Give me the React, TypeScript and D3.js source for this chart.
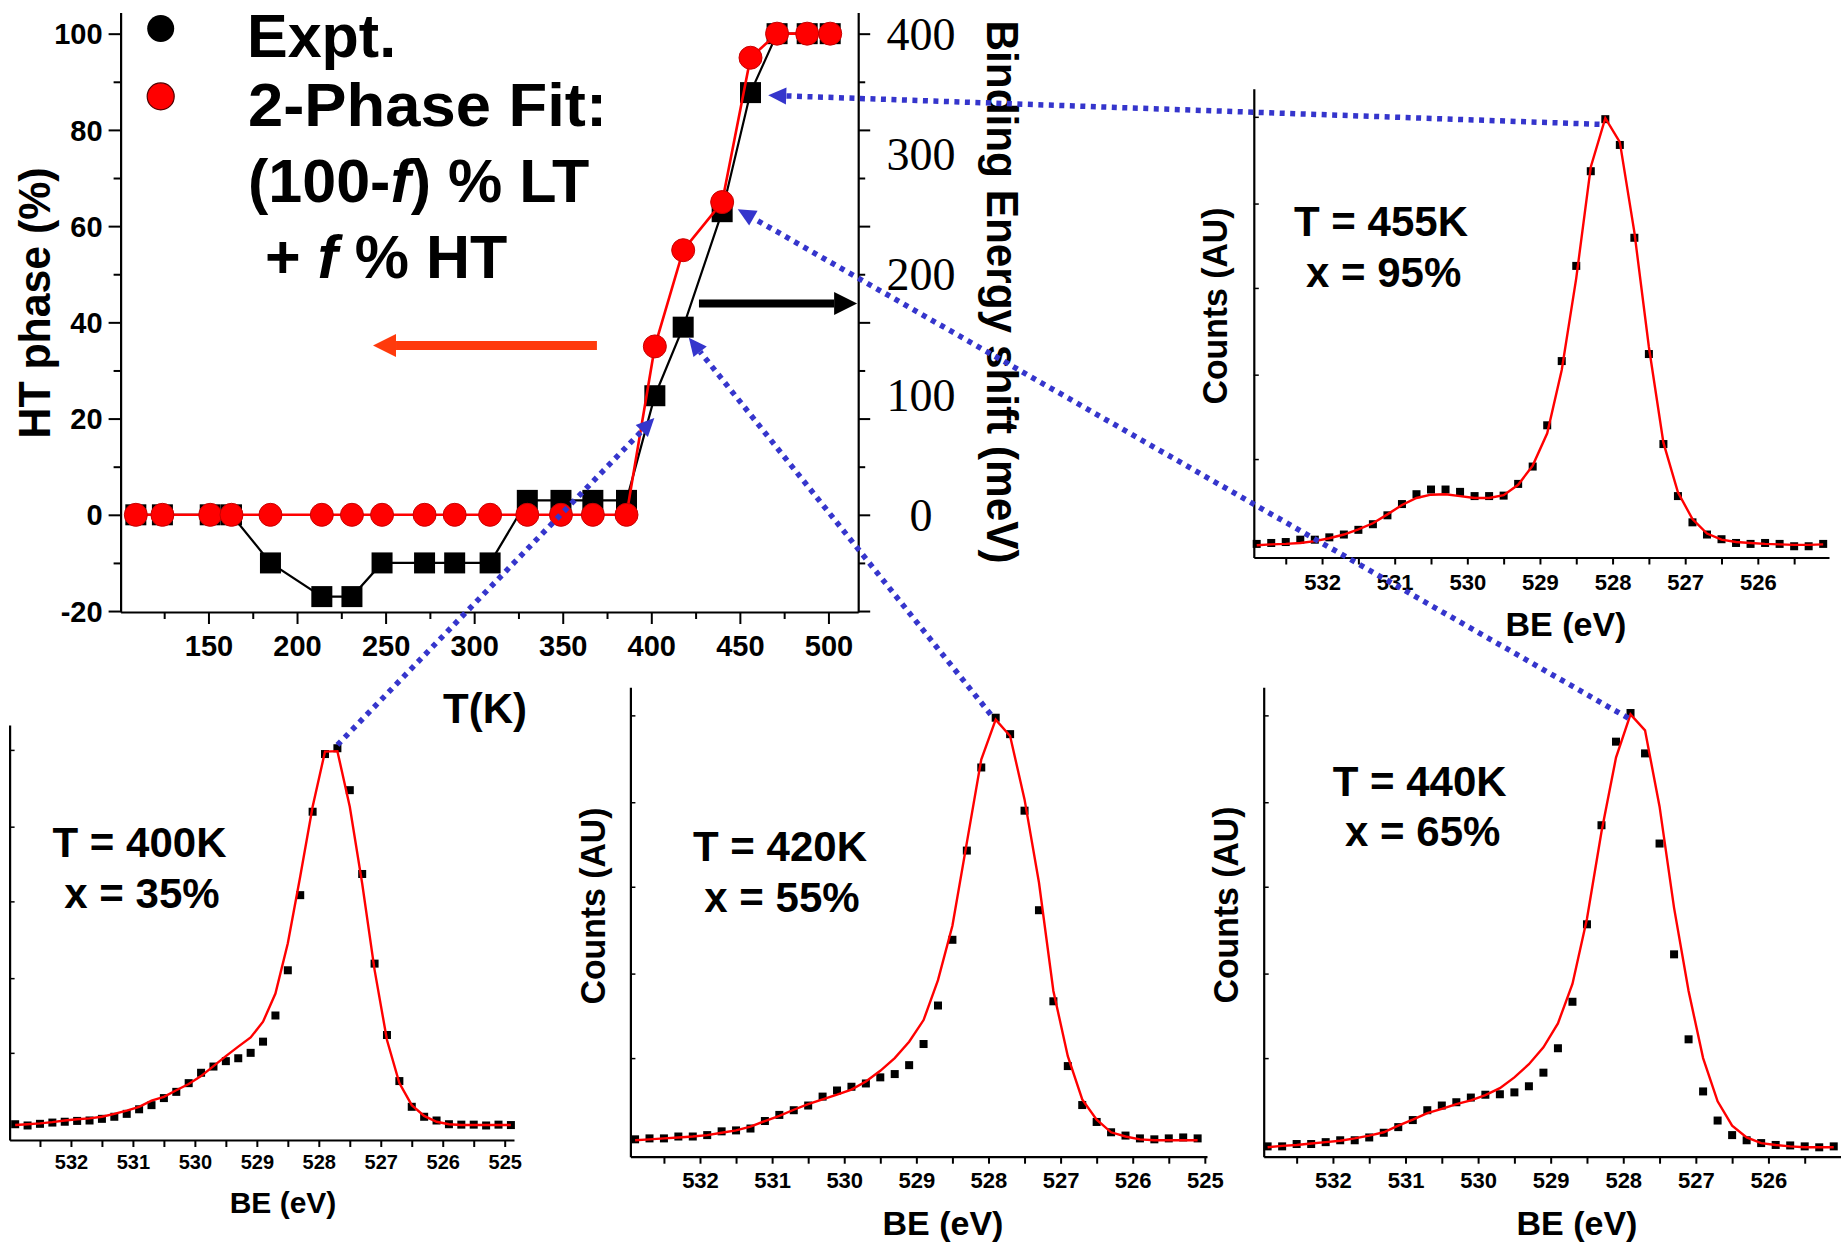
import { useEffect, useRef } from "react";
import * as d3 from "d3";

const W = 1841;
const H = 1247;
const SANS = "'Liberation Sans', Arial, Helvetica, sans-serif";
const SERIF = "'Liberation Serif', 'Times New Roman', serif";
const BLUE = "#3535cc";

// ---- main panel: temperature series ----
const temperatures = [109, 124, 151, 163, 185, 214, 231, 248, 272, 289, 309, 330, 349, 367, 386, 402, 418, 440, 456, 471, 488, 501];
// experimental binding energy shift (meV, right axis)
const exptShiftMeV = [0, 0, 0, 0, -40, -68, -68, -40, -40, -40, -40, 12, 12, 12, 12, 99, 156, 252, 351, 400, 400, 400];
// two-phase fit, HT fraction (%, left axis)
const fitPhasePct = [0, 0, 0, 0, 0, 0, 0, 0, 0, 0, 0, 0, 0, 0, 0, 35, 55, 65, 95, 100, 100, 100];

const tempTicks = [150, 200, 250, 300, 350, 400, 450, 500];
const tempMinorTicks = [125, 175, 225, 275, 325, 375, 425, 475];
const phaseTicks = [-20, 0, 20, 40, 60, 80, 100];
const phaseMinorTicks = [-10, 10, 30, 50, 70, 90];
const shiftLabels = [0, 100, 200, 300, 400];

// ---- XPS O 1s spectra ----
const bindingEnergy = [
  532.9, 532.7, 532.5, 532.3, 532.1, 531.9, 531.7, 531.5, 531.3, 531.1,
  530.9, 530.7, 530.5, 530.3, 530.1, 529.9, 529.7, 529.5, 529.3, 529.1,
  528.9, 528.7, 528.5, 528.3, 528.1, 527.9, 527.7, 527.5, 527.3, 527.1,
  526.9, 526.7, 526.5, 526.3, 526.1, 525.9, 525.7, 525.5, 525.3, 525.1, 524.9,
];
const beLabels = [532, 531, 530, 529, 528, 527, 526, 525];
const beMinorTicks = [532.5, 531.5, 530.5, 529.5, 528.5, 527.5, 526.5, 525.5];
const countTicks = [21, 39, 57.5, 75.5, 94];

const counts400 = [3.8, 3.5, 3.9, 4.2, 4.4, 4.6, 4.7, 5.1, 5.6, 6.3, 7.4, 8.4, 10.1, 11.6, 13.7, 16.2, 17.7, 19.0, 19.7, 21.0, 23.7, 30.0, 40.9, 59.0, 79.1, 93.0, 94.4, 84.3, 64.1, 42.5, 25.3, 14.2, 8.0, 5.6, 4.7, 3.8, 3.7, 3.7, 3.5, 3.7, 3.6];
const fit400 = [3.6, 3.8, 4.0, 4.3, 4.7, 5.0, 5.2, 5.6, 6.3, 7.1, 8.0, 9.5, 10.4, 12.0, 13.5, 15.4, 17.8, 20.2, 22.5, 24.7, 28.5, 35.3, 47.4, 63.5, 80.3, 93.6, 93.7, 80.3, 61.8, 41.0, 24.1, 13.7, 8.4, 5.8, 4.4, 3.8, 3.6, 3.6, 3.6, 3.6, 3.6];
const counts420 = [3.7, 3.9, 3.9, 4.3, 4.3, 4.6, 5.4, 5.6, 6.0, 7.6, 8.9, 9.9, 10.9, 12.8, 14.1, 14.9, 15.6, 16.9, 17.6, 19.5, 24.0, 32.2, 46.2, 65.2, 82.9, 93.5, 90.0, 73.7, 52.5, 33.1, 19.3, 11.0, 7.4, 5.2, 4.5, 3.9, 3.7, 3.9, 4.1, 3.9];
const fit420 = [3.5, 3.7, 3.9, 4.1, 4.3, 4.6, 5.1, 5.6, 6.4, 7.6, 8.7, 10.0, 11.2, 12.2, 13.2, 14.3, 16.0, 18.3, 21.0, 24.5, 29.1, 37.6, 49.2, 66.9, 84.6, 93.1, 89.6, 76.1, 58.4, 35.3, 21.4, 12.2, 7.9, 5.2, 4.3, 3.7, 3.5, 3.5, 3.5, 3.5];
const counts440 = [2.2, 2.2, 2.7, 2.7, 3.1, 3.5, 3.5, 4.1, 5.1, 6.3, 7.8, 9.9, 10.9, 11.6, 12.6, 13.2, 13.3, 13.7, 15.0, 17.9, 23.1, 33.0, 49.5, 70.6, 88.4, 94.5, 85.9, 66.7, 43.1, 25.0, 13.9, 7.7, 4.6, 3.5, 2.9, 2.5, 2.4, 2.2, 2.0, 2.2];
const fit440 = [2.0, 2.3, 2.5, 2.8, 3.1, 3.4, 3.9, 4.5, 5.2, 6.6, 7.9, 9.3, 10.2, 11.2, 12.0, 13.1, 14.6, 16.9, 19.7, 23.3, 28.4, 36.8, 50.7, 69.2, 85.0, 94.2, 90.8, 74.6, 53.0, 35.3, 21.0, 11.8, 6.6, 4.1, 2.9, 2.5, 2.2, 2.0, 2.0, 2.0];
const counts455 = [2.9, 3.1, 3.3, 3.8, 3.8, 4.3, 4.9, 5.9, 7.1, 9.0, 11.4, 13.5, 14.5, 14.5, 14.0, 13.1, 13.1, 13.2, 15.7, 19.4, 28.2, 41.9, 62.2, 82.4, 93.5, 88.0, 68.2, 43.4, 24.2, 13.1, 7.5, 4.9, 3.9, 3.1, 2.9, 3.1, 2.9, 2.4, 2.4, 2.9];
const fit455 = [2.6, 2.8, 2.9, 3.1, 3.5, 4.1, 4.9, 6.0, 7.3, 9.2, 11.2, 12.7, 13.4, 13.5, 13.1, 12.7, 12.7, 13.3, 15.5, 19.6, 26.5, 40.0, 59.6, 83.3, 93.7, 88.6, 69.4, 44.9, 24.5, 13.9, 8.2, 5.1, 3.8, 3.3, 3.1, 2.9, 2.8, 2.7, 2.7, 2.8];

// pointer from each spectrum peak [BE, counts] to the main panel [T, %]
const pointerFrom = [[527.7, 95.2], [527.97, 94.2], [527.93, 93.4], [528.18, 92.4]];
const pointerTo = [[401.7, 20.1], [421.2, 36.8], [448.8, 63.5], [466.0, 87.2]];

// main panel scales
const xT = d3.scaleLinear().domain([100.4, 516.8]).range([120.6, 858.2]);
const yPct = d3.scaleLinear().domain([-20.2, 104.4]).range([612, 12.5]);
const yMeV = d3.scaleLinear().domain([-80.8, 417.6]).range([612, 12.5]);

const spectra = [
  {
    temp: "T = 400K", frac: "x = 35%", counts: counts400, fit: fit400,
    left: 9.6, right: 514, top: 725, bottom: 1140, be: [532.99, 524.85],
    tickFont: 20, tickBase: 29, tempAt: [139.5, 856.7], fracAt: [142, 908.3],
    beTitle: [283, 1213, 30], countsAt: null,
  },
  {
    temp: "T = 420K", frac: "x = 55%", counts: counts420, fit: fit420,
    left: 630.4, right: 1207, top: 687.2, bottom: 1156.7, be: [532.965, 524.97],
    tickFont: 22, tickBase: 31.5, tempAt: [780, 860.8], fracAt: [782, 911.5],
    beTitle: [943, 1235, 34], countsAt: [605, 906],
  },
  {
    temp: "T = 440K", frac: "x = 65%", counts: counts440, fit: fit440,
    left: 1263.7, right: 1841, top: 687.2, bottom: 1156.7, be: [532.954, 525.0],
    tickFont: 22, tickBase: 31.5, tempAt: [1419.7, 795.7], fracAt: [1422.7, 846.4],
    beTitle: [1577, 1235, 34], countsAt: [1238, 905],
  },
  {
    temp: "T = 455K", frac: "x = 95%", counts: counts455, fit: fit455,
    left: 1253.8, right: 1829, top: 88.7, bottom: 557.5, be: [532.94, 525.02],
    tickFont: 22, tickBase: 32.5, tempAt: [1381, 236], fracAt: [1383.6, 286.6],
    beTitle: [1566, 636, 34], countsAt: [1227, 306],
  },
];

const plain = (d: any) => String(d);

function styleTicks(sel: any, size: number) {
  sel.selectAll("text")
    .attr("font-family", SANS)
    .attr("font-weight", "bold")
    .attr("font-size", size)
    .attr("fill", "#000");
  sel.selectAll(".tick line").attr("stroke", "#000").attr("stroke-width", 2);
  sel.select(".domain").attr("stroke", "#000").attr("stroke-width", 2.2);
}

function drawMain(svg: any) {
  const g = svg.append("g");

  // bottom axis
  const bx = g.append("g").attr("transform", "translate(0,612)")
    .call(d3.axisBottom(xT).tickValues(tempTicks).tickSize(12).tickSizeOuter(0).tickFormat(plain));
  styleTicks(bx, 29);
  bx.selectAll("text").attr("y", 43.5).attr("dy", null);
  const bxm = g.append("g").attr("transform", "translate(0,612)")
    .call(d3.axisBottom(xT).tickValues(tempMinorTicks).tickSize(7).tickSizeOuter(0).tickFormat(() => ""));
  styleTicks(bxm, 29);
  bxm.select(".domain").remove();

  // left axis
  const ly = g.append("g").attr("transform", `translate(${xT.range()[0]},0)`)
    .call(d3.axisLeft(yPct).tickValues(phaseTicks).tickSize(12).tickSizeOuter(0).tickFormat(plain));
  styleTicks(ly, 29);
  ly.selectAll("text").attr("x", -18).attr("dy", "0.35em");
  const lym = g.append("g").attr("transform", `translate(${xT.range()[0]},0)`)
    .call(d3.axisLeft(yPct).tickValues(phaseMinorTicks).tickSize(7).tickSizeOuter(0).tickFormat(() => ""));
  styleTicks(lym, 29);
  lym.select(".domain").remove();

  // right axis (ticks follow the left scale, labels in meV)
  const ry = g.append("g").attr("transform", `translate(${xT.range()[1]},0)`)
    .call(d3.axisRight(yPct).tickValues(phaseTicks).tickSize(12).tickSizeOuter(0).tickFormat(() => ""));
  styleTicks(ry, 29);
  const rym = g.append("g").attr("transform", `translate(${xT.range()[1]},0)`)
    .call(d3.axisRight(yPct).tickValues(phaseMinorTicks).tickSize(7).tickSizeOuter(0).tickFormat(() => ""));
  styleTicks(rym, 29);
  rym.select(".domain").remove();

  g.selectAll(".shift-label").data(shiftLabels).enter().append("text")
    .attr("x", 921).attr("y", (d: number) => yMeV(d)).attr("dy", "0.35em")
    .attr("text-anchor", "middle").attr("font-family", SERIF).attr("font-size", 46)
    .text((d: number) => d);

  // axis titles
  g.append("text").attr("transform", "translate(50,303) rotate(-90)")
    .attr("text-anchor", "middle").attr("font-family", SANS).attr("font-weight", "bold")
    .attr("font-size", 45).attr("textLength", 271).attr("lengthAdjust", "spacingAndGlyphs")
    .text("HT phase (%)");
  g.append("text").attr("x", 485).attr("y", 723)
    .attr("text-anchor", "middle").attr("font-family", SANS).attr("font-weight", "bold")
    .attr("font-size", 42).text("T(K)");
  g.append("text").attr("transform", "translate(987,292) rotate(90)")
    .attr("text-anchor", "middle").attr("font-family", SANS).attr("font-weight", "bold")
    .attr("font-size", 44).attr("textLength", 543).attr("lengthAdjust", "spacingAndGlyphs")
    .text("Binding Energy shift (meV)");

  // experimental shift: black squares with a thin line
  const expt = temperatures.map((t, i) => [xT(t), yMeV(exptShiftMeV[i])] as [number, number]);
  g.append("path").attr("d", d3.line()(expt)).attr("fill", "none")
    .attr("stroke", "#000").attr("stroke-width", 2.2);
  g.selectAll(".sq").data(expt).enter().append("rect")
    .attr("x", (d: number[]) => d[0] - 10.5).attr("y", (d: number[]) => d[1] - 10.5)
    .attr("width", 21).attr("height", 21).attr("fill", "#000");

  // two-phase fit: red circles
  const fit = temperatures.map((t, i) => [xT(t), yPct(fitPhasePct[i])] as [number, number]);
  g.append("path").attr("d", d3.line()(fit)).attr("fill", "none")
    .attr("stroke", "#ff0000").attr("stroke-width", 2.6);
  g.selectAll(".dot").data(fit).enter().append("circle")
    .attr("cx", (d: number[]) => d[0]).attr("cy", (d: number[]) => d[1]).attr("r", 11.5)
    .attr("fill", "#ff0000").attr("stroke", "#c80000").attr("stroke-width", 1);

  // legend
  g.append("circle").attr("cx", 160.7).attr("cy", 28.5).attr("r", 13.5).attr("fill", "#000");
  g.append("circle").attr("cx", 160.7).attr("cy", 96.4).attr("r", 13.5)
    .attr("fill", "#ff0000").attr("stroke", "#500000").attr("stroke-width", 1.2);
  const leg = g.append("g").attr("font-family", SANS).attr("font-weight", "bold").attr("font-size", 61);
  leg.append("text").attr("x", 247).attr("y", 57.4).text("Expt.");
  leg.append("text").attr("x", 248).attr("y", 126.3).attr("textLength", 359)
    .attr("lengthAdjust", "spacingAndGlyphs").text("2-Phase Fit:");
  const l3 = leg.append("text").attr("x", 248).attr("y", 202);
  l3.append("tspan").text("(100-");
  l3.append("tspan").attr("font-style", "italic").text("f");
  l3.append("tspan").text(") % LT");
  const l4 = leg.append("text").attr("x", 265).attr("y", 277.8);
  l4.append("tspan").text("+ ");
  l4.append("tspan").attr("font-style", "italic").text("f");
  l4.append("tspan").text(" % HT");

  // axis-assignment arrows, in data units
  const arrows = [
    { from: [369.3, 35.2], to: [242.9, 35.2], color: "#ff3a0c", w: 9 },
    { from: [426.9, 43.9], to: [516.2, 43.9], color: "#000", w: 8 },
  ];
  arrows.forEach((a) => {
    const x1 = xT(a.from[0]), x2 = xT(a.to[0]), y = yPct(a.from[1]);
    const dir = Math.sign(x2 - x1);
    const base = x2 - dir * 23;
    g.append("line").attr("x1", x1).attr("x2", base).attr("y1", y).attr("y2", y)
      .attr("stroke", a.color).attr("stroke-width", a.w);
    g.append("polygon")
      .attr("points", `${x2},${y} ${base},${y - 11.5} ${base},${y + 11.5}`)
      .attr("fill", a.color);
  });
}

function drawSpectrum(svg: any, p: any) {
  const x = d3.scaleLinear().domain(p.be).range([p.left, p.right]);
  const y = d3.scaleLinear().domain([0, 100]).range([p.bottom, p.top]);
  const g = svg.append("g");
  const inDomain = (v: number) => v < p.be[0] && v > p.be[1] + 0.01;

  const bx = g.append("g").attr("transform", `translate(0,${p.bottom})`)
    .call(d3.axisBottom(x).tickValues(beLabels.filter(inDomain)).tickSize(7).tickSizeOuter(0).tickFormat(plain));
  styleTicks(bx, p.tickFont);
  bx.selectAll("text").attr("y", p.tickBase).attr("dy", null);
  const bxm = g.append("g").attr("transform", `translate(0,${p.bottom})`)
    .call(d3.axisBottom(x).tickValues(beMinorTicks.filter(inDomain)).tickSize(7).tickSizeOuter(0).tickFormat(() => ""));
  styleTicks(bxm, p.tickFont);
  bxm.select(".domain").remove();

  const ly = g.append("g").attr("transform", `translate(${p.left},0)`)
    .call(d3.axisLeft(y).tickValues(countTicks).tickSize(-5).tickSizeOuter(0).tickFormat(() => ""));
  styleTicks(ly, p.tickFont);
  ly.selectAll(".tick line").attr("stroke-width", 1.5);

  const pts = p.counts.map((c: number, i: number) => [x(bindingEnergy[i]), y(c)] as [number, number]);
  g.selectAll(".pt").data(pts).enter().append("rect")
    .attr("x", (d: number[]) => d[0] - 4).attr("y", (d: number[]) => d[1] - 4)
    .attr("width", 8).attr("height", 8).attr("fill", "#000");
  const fitPts = p.fit.map((c: number, i: number) => [x(bindingEnergy[i]), y(c)] as [number, number]);
  g.append("path").attr("d", d3.line()(fitPts)).attr("fill", "none")
    .attr("stroke", "#ff0000").attr("stroke-width", 2.4);

  const txt = g.append("g").attr("font-family", SANS).attr("font-weight", "bold").attr("text-anchor", "middle");
  txt.append("text").attr("x", p.tempAt[0]).attr("y", p.tempAt[1]).attr("font-size", 42).text(p.temp);
  txt.append("text").attr("x", p.fracAt[0]).attr("y", p.fracAt[1]).attr("font-size", 42).text(p.frac);
  txt.append("text").attr("x", p.beTitle[0]).attr("y", p.beTitle[1]).attr("font-size", p.beTitle[2]).text("BE (eV)");
  if (p.countsAt) {
    txt.append("text").attr("transform", `translate(${p.countsAt[0]},${p.countsAt[1]}) rotate(-90)`)
      .attr("font-size", 35).attr("textLength", 197).attr("lengthAdjust", "spacingAndGlyphs")
      .text("Counts (AU)");
  }
  return { x, y };
}

export default function App() {
  const svgRef = useRef<SVGSVGElement>(null);

  useEffect(() => {
    if (!svgRef.current) return;
    const svg = d3.select(svgRef.current);
    svg.selectAll("*").remove();

    drawMain(svg);
    const scales = spectra.map((p) => drawSpectrum(svg, p));

    // blue dotted pointers from each spectrum peak to the main panel
    const ptr = svg.append("g");
    scales.forEach((s, i) => {
      const x0 = s.x(pointerFrom[i][0]), y0 = s.y(pointerFrom[i][1]);
      const x1 = xT(pointerTo[i][0]), y1 = yPct(pointerTo[i][1]);
      const len = Math.hypot(x1 - x0, y1 - y0);
      const ux = (x1 - x0) / len, uy = (y1 - y0) / len;
      const bx = x1 - ux * 18, by = y1 - uy * 18;
      ptr.append("line").attr("x1", x0).attr("y1", y0).attr("x2", bx).attr("y2", by)
        .attr("stroke", BLUE).attr("stroke-width", 5.5).attr("stroke-dasharray", "5 5.5");
      ptr.append("polygon")
        .attr("points", `${x1},${y1} ${bx - uy * 8.5},${by + ux * 8.5} ${bx + uy * 8.5},${by - ux * 8.5}`)
        .attr("fill", BLUE);
    });
  }, []);

  return (
    <svg
      ref={svgRef}
      width={W}
      height={H}
      viewBox={`0 0 ${W} ${H}`}
      style={{ position: "absolute", left: 0, top: 0, background: "#fff" }}
    ></svg>
  );
}
